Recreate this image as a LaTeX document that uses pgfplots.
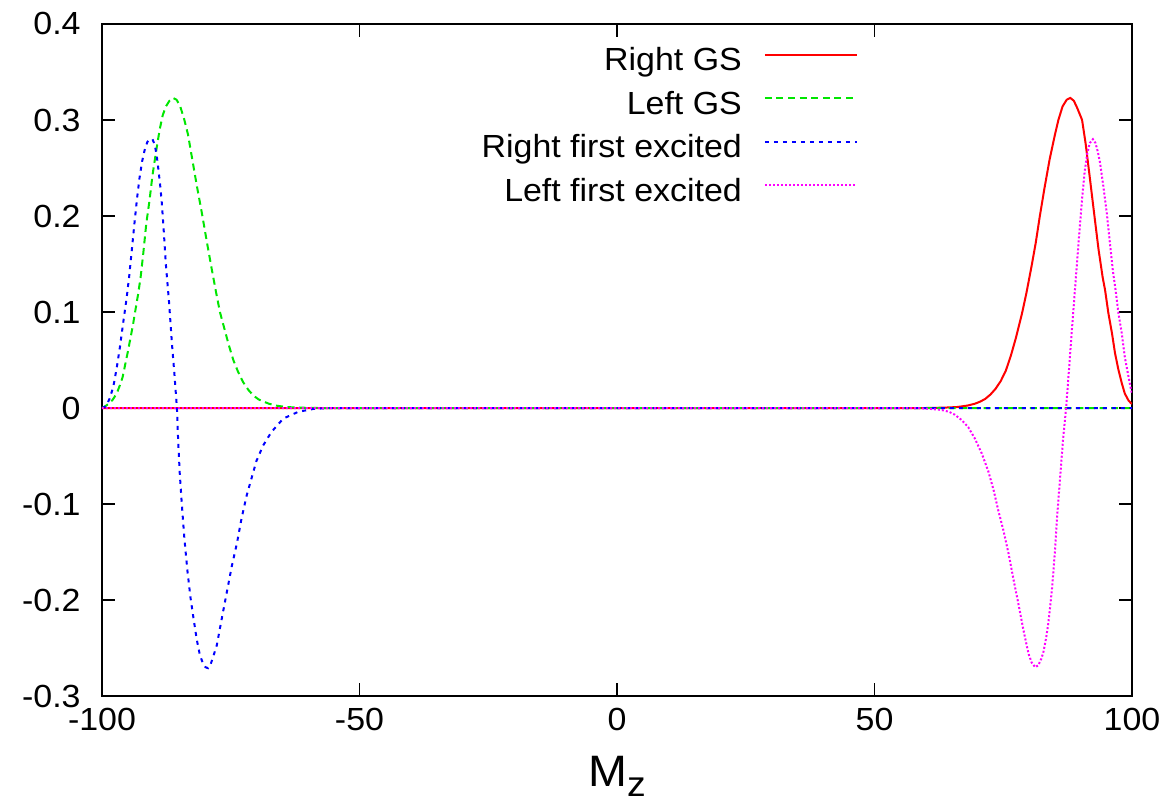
\documentclass[border=0pt]{standalone}
\usepackage{fontspec}
\setmainfont{Liberation Sans}[FakeStretch=1.06]
\usepackage{pgfplots}
\pgfplotsset{compat=1.18}
\definecolor{gpred}{RGB}{255,0,0}
\definecolor{gpgreen}{RGB}{0,230,0}
\definecolor{gpblue}{RGB}{0,0,255}
\definecolor{gpmagenta}{RGB}{255,0,255}

\begin{document}
\begin{tikzpicture}
\begin{axis}[
  width=515pt, height=336pt, scale only axis,
  xmin=-100, xmax=100, ymin=-0.3, ymax=0.4,
  xtick={-100,-50,0,50,100},
  xticklabels={-100,-50,0,50,100},
  ytick={-0.3,-0.2,-0.1,0,0.1,0.2,0.3,0.4},
  yticklabels={-0.3,-0.2,-0.1,0,0.1,0.2,0.3,0.4},
  tick align=inside, major tick length=6.5pt,
  tick style={black, line width=0.9pt},
  axis line style={black, line width=1pt},
  ticklabel style={font=\fontsize{16}{19}\selectfont, inner sep=0pt},
  yticklabel style={xshift=-10.5pt},
  xticklabel style={yshift=-6pt},
  xlabel={M\raisebox{-4.8pt}{\fontsize{17.6}{20}\selectfont z}},
  xlabel style={at={(axis description cs:0.5,-0.089)}, anchor=north, inner sep=0pt, font=\fontsize{22}{26}\selectfont},
  legend style={at={(0.740,0.973)}, anchor=north east, draw=none, fill=none,
    font=\fontsize{16}{19}\selectfont, row sep=5.75pt, column sep=11pt,
    nodes={inner sep=0pt, text height=12pt, text depth=4pt}},
  legend cell align=right,
  legend plot pos=right,
  legend image code/.code={\draw[#1] (0pt,4pt) -- (46pt,4pt);},
  every axis plot/.append style={line width=1pt},
]
% Right GS
\addplot[color=gpred] coordinates {
(-100,0) (60,0) (62,0.0002) (64,0.0005) (66,0.001) (68,0.0025) (69.5,0.0045) (70.5,0.0066)
(71.5,0.0095) (72.5,0.014) (73.5,0.020) (74.5,0.028) (75.5,0.039) (76.5,0.055) (77.5,0.074)
(78.7,0.100) (79.5,0.120) (80.5,0.148) (81.3,0.172) (82.1,0.200) (83,0.229) (84,0.259)
(85,0.284) (85.7,0.300) (86.5,0.314) (87.3,0.321) (88,0.323) (88.7,0.320) (89.4,0.312)
(90.3,0.300) (91,0.275) (91.8,0.240) (92.7,0.200) (93.5,0.165) (94.3,0.136) (94.76,0.123)
(95.4,0.099) (96.1,0.078) (96.7,0.057) (97.35,0.040) (98.0,0.026) (98.6,0.015) (99.3,0.008)
(99.8,0.005) (100,0.0045)};
\addlegendentry{Right GS}
% Left GS
\addplot[color=gpgreen, dash pattern=on 3.5pt off 2.3pt] coordinates {
(-100,0) (-99.3,0.002) (-98.6,0.005) (-98.0,0.008) (-97.5,0.012) (-97.0,0.017) (-96.5,0.024)
(-96.0,0.032) (-95.5,0.045) (-95.0,0.058) (-94.5,0.072) (-94.0,0.086) (-93.6,0.099)
(-93.0,0.118) (-92.5,0.136) (-92.0,0.160) (-91.4,0.192) (-90.8,0.215) (-90.2,0.242)
(-89.5,0.267) (-88.8,0.290) (-88.2,0.305) (-87.6,0.314) (-86.9,0.320) (-86.2,0.323)
(-85.5,0.321) (-84.8,0.314) (-84.1,0.302) (-83.3,0.285) (-82.5,0.260) (-81.6,0.232)
(-80.6,0.203) (-79.7,0.175) (-78.8,0.148) (-77.9,0.122) (-77.1,0.100) (-76.2,0.082)
(-75.4,0.066) (-74.5,0.050) (-73.6,0.038) (-72.6,0.027) (-71.6,0.019) (-70.6,0.013)
(-69.6,0.009) (-68.6,0.0066) (-67.6,0.0045) (-66.2,0.0025) (-64.2,0.001) (-62.2,0.0005)
(-60.2,0.0002) (-58,0) (100,0)};
\addlegendentry{Left GS}
% Right first excited
\addplot[color=gpblue, dash pattern=on 2pt off 2.5pt] coordinates {
(-100,0) (-99.5,0.001) (-99.1,0.003) (-98.5,0.010) (-97.8,0.022) (-97.1,0.043) (-96.5,0.064)
(-95.9,0.088) (-95.2,0.115) (-94.7,0.138) (-94.2,0.165) (-93.7,0.192) (-93.2,0.218)
(-92.7,0.240) (-92.2,0.257) (-91.7,0.269) (-91.2,0.277) (-90.7,0.280) (-90.2,0.280)
(-89.8,0.275) (-89.4,0.264) (-89.1,0.251) (-88.7,0.232) (-88.4,0.215) (-88.0,0.184)
(-87.6,0.150) (-87.0,0.112) (-86.4,0.066) (-85.9,0.033) (-85.45,0) (-85.2,-0.035)
(-84.9,-0.068) (-84.5,-0.100) (-84.0,-0.136) (-83.4,-0.170) (-82.8,-0.198) (-82.2,-0.220)
(-81.6,-0.241) (-81.0,-0.257) (-80.4,-0.266) (-79.9,-0.270) (-79.4,-0.271) (-78.9,-0.267)
(-78.4,-0.259) (-77.7,-0.247) (-76.8,-0.221) (-75.8,-0.193) (-74.8,-0.165) (-73.8,-0.141)
(-72.9,-0.115) (-71.9,-0.091) (-70.9,-0.072) (-70.0,-0.055) (-68.7,-0.039) (-67.1,-0.025)
(-64.8,-0.011) (-61.9,-0.004) (-59,-0.001) (-56,0) (100,0)};
\addlegendentry{Right first excited}
% Left first excited
\addplot[color=gpmagenta, line width=1pt, dash pattern=on 1pt off 1pt] coordinates {
(-100,0) (58,0) (61,-0.001) (63,-0.002) (64.5,-0.004) (65.6,-0.007) (66.9,-0.0125)
(68.2,-0.020) (69.5,-0.032) (70.8,-0.047) (72.1,-0.066) (73.1,-0.085) (74.0,-0.106)
(75.0,-0.127) (76.0,-0.151) (77.0,-0.179) (77.9,-0.203) (78.9,-0.231) (79.9,-0.256)
(80.5,-0.265) (81.2,-0.270) (81.8,-0.268) (82.4,-0.261) (82.8,-0.254) (83.3,-0.240)
(83.7,-0.226) (84.1,-0.207) (84.5,-0.186) (85.0,-0.151) (85.5,-0.110) (86.1,-0.068)
(86.6,-0.033) (87.2,0) (87.8,0.043) (88.3,0.080) (88.8,0.115) (89.3,0.150) (89.8,0.185)
(90.3,0.218) (90.8,0.246) (91.3,0.265) (91.8,0.276) (92.4,0.280) (92.9,0.276) (93.4,0.266)
(93.8,0.255) (94.4,0.232) (95.1,0.203) (95.7,0.172) (96.3,0.142) (96.8,0.123) (97.35,0.099)
(98.0,0.078) (98.6,0.053) (99.3,0.033) (99.8,0.019) (100,0.015)};
\addlegendentry{Left first excited}
\coordinate (bbl) at (rel axis cs:-0.0990,-0.1592);
\coordinate (btr) at (rel axis cs:1.0427,1.0357);
\end{axis}
\path (bbl) rectangle (btr);
\end{tikzpicture}
\end{document}
